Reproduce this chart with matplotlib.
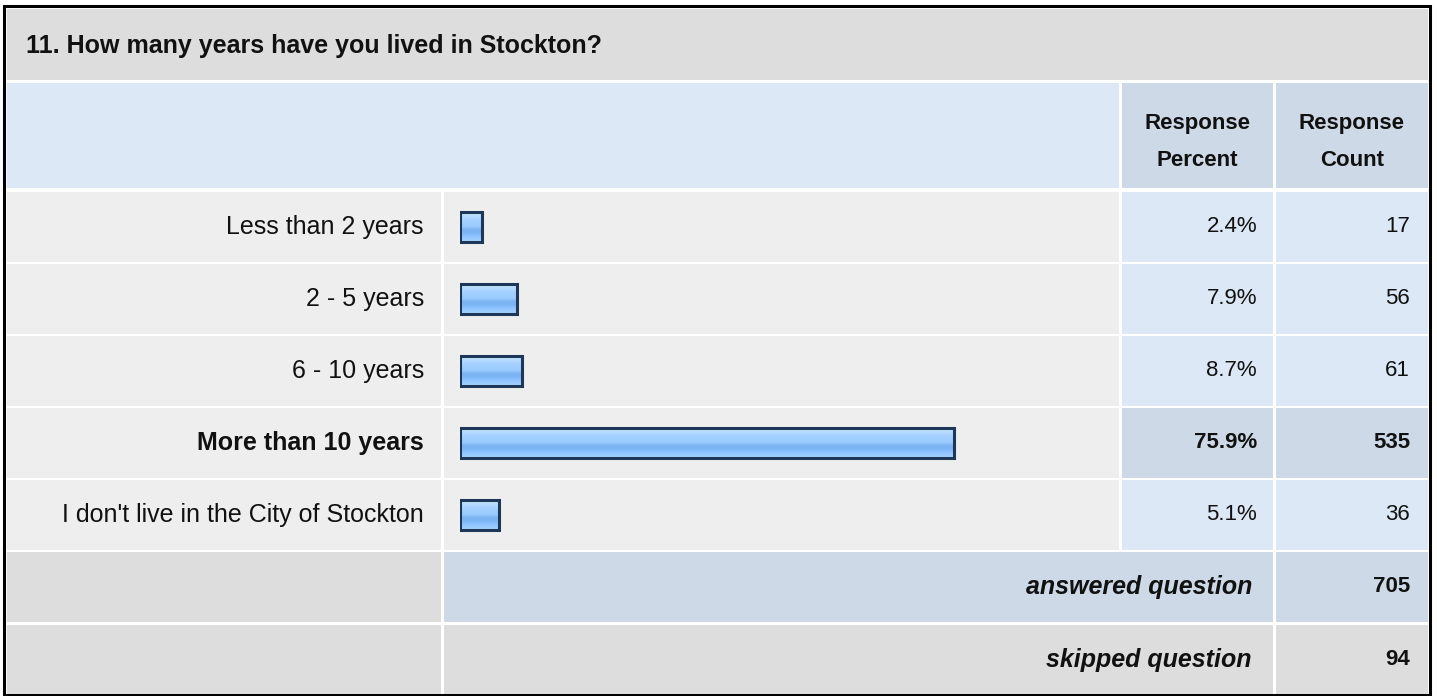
import matplotlib.pyplot as plt
import numpy as np
from matplotlib.patches import Rectangle
from matplotlib.colors import LinearSegmentedColormap

plt.rcParams['font.family'] = ['Liberation Sans', 'DejaVu Sans']

# Data
title = "11. How many years have you lived in Stockton?"
categories = ["Less than 2 years", "2 - 5 years", "6 - 10 years",
              "More than 10 years", "I don't live in the City of Stockton"]
percents = [2.4, 7.9, 8.7, 75.9, 5.1]
counts = [17, 56, 61, 535, 36]
answered = 705
skipped = 94
highlight = 3  # the bold row

W, H = 1437, 696
fig = plt.figure(figsize=(W / 100, H / 100), dpi=100)
ax = fig.add_axes([0, 0, 1, 1])
ax.set_xlim(0, W)
ax.set_ylim(H, 0)
ax.set_axis_off()

GRAY = '#dddddd'
LIGHT = '#eeeeee'
BLUE = '#dce8f5'
BLUE2 = '#cdd9e6'
FS_LABEL = 18
FS_HEAD = 16
FS_VAL = 16


def cell(x0, x1, y0, y1, color):
    ax.add_patch(Rectangle((x0, y0), x1 - x0, y1 - y0, facecolor=color,
                           edgecolor='none'))


# columns
L0, L1 = 7, 441      # label column
B0, B1 = 444, 1119   # bar column
P0, P1 = 1122, 1273  # percent column
C0, C1 = 1276, 1428  # count column

# outer border
ax.add_patch(Rectangle((4, 6), 1426, 689, facecolor='white',
                       edgecolor='black', linewidth=2.2))

# title row
cell(L0, C1, 9, 80, GRAY)
ax.text(26, 46, title, fontsize=18, fontweight='bold', va='center',
        ha='left', color='#111111')

# header row
cell(L0, B1, 83, 188, BLUE)
cell(P0, P1, 83, 188, BLUE2)
cell(C0, C1, 83, 188, BLUE2)
for xc, sub in [((P0 + P1) / 2, 'Percent'), ((C0 + C1) / 2, 'Count')]:
    ax.text(xc, 123, 'Response', fontsize=FS_HEAD, fontweight='bold',
            ha='center', va='center', color='#111111')
    ax.text(xc, 160, sub, fontsize=FS_HEAD, fontweight='bold',
            ha='center', va='center', color='#111111')

# data rows
ROW0, ROWH, GAP = 192, 70, 2
for i, (cat, p, c) in enumerate(zip(categories, percents, counts)):
    y0 = ROW0 + i * (ROWH + GAP)
    y1 = y0 + ROWH
    yc = (y0 + y1) / 2
    hl = i == highlight
    cell(L0, L1, y0, y1, LIGHT)
    cell(B0, B1, y0, y1, LIGHT)
    cell(P0, P1, y0, y1, BLUE2 if hl else BLUE)
    cell(C0, C1, y0, y1, BLUE2 if hl else BLUE)
    fw = 'bold' if hl else 'normal'
    ax.text(424, yc, cat, fontsize=FS_LABEL, fontweight=fw, ha='right',
            va='center', color='#111111')
    ax.text(1257, yc, f"{p}%", fontsize=FS_VAL, fontweight=fw, ha='right',
            va='center', color='#111111')
    ax.text(1410, yc, str(c), fontsize=FS_VAL, fontweight=fw, ha='right',
            va='center', color='#111111')

# summary rows
ya0 = ROW0 + 5 * (ROWH + GAP)
ya1 = ya0 + ROWH
ys0 = ya1 + 3
ys1 = 694
cell(L0, L1, ya0, ya1, GRAY)
cell(L1 + 3, P1, ya0, ya1, BLUE2)
cell(C0, C1, ya0, ya1, BLUE2)
cell(L0, L1, ys0, ys1, GRAY)
cell(L1 + 3, P1, ys0, ys1, GRAY)
cell(C0, C1, ys0, ys1, GRAY)
for (a, b), lab, val in [((ya0, ya1), 'answered question', answered),
                         ((ys0, ys1), 'skipped question', skipped)]:
    yc = (a + b) / 2
    ax.text(1252, yc, lab, fontsize=FS_LABEL, fontweight='bold',
            style='italic', ha='right', va='center', color='#111111')
    ax.text(1410, yc, str(val), fontsize=FS_VAL, fontweight='bold',
            ha='right', va='center', color='#111111')

# bars, drawn in their own axes (x in percent)
bx0, bx1 = 460, 1109
by0 = ROW0 - GAP / 2
by1 = by0 + 5 * (ROWH + GAP)
bax = fig.add_axes([bx0 / W, 1 - by1 / H, (bx1 - bx0) / W, (by1 - by0) / H])
bax.set_xlim(-1, 100)
bax.set_ylim(len(categories) - 0.5, -0.5)
bax.set_axis_off()
bax.patch.set_alpha(0)

grad_cmap = LinearSegmentedColormap.from_list('bar', [
    (0.0, '#cfe8ff'), (0.15, '#b6dbff'), (0.3, '#a4d1ff'),
    (0.5, '#9acbff'), (0.6, '#7cb3f2'), (0.72, '#7db5f5'),
    (0.8, '#8cc2ff'), (1.0, '#a8d4ff')])
grad = np.linspace(0, 1, 64).reshape(-1, 1)
bh = 0.42
bars = bax.barh(range(len(categories)), [p + 1 for p in percents], left=-1,
                height=bh, facecolor='none', edgecolor='#1d3759',
                linewidth=2.2, zorder=3)
for b in bars:
    x, y = b.get_x(), b.get_y()
    w, h = b.get_width(), b.get_height()
    im = bax.imshow(grad, cmap=grad_cmap, aspect='auto',
                    extent=[x, x + w, y + h, y], zorder=2)
    im.set_clip_path(b)

fig.savefig('out.png', dpi=100)
